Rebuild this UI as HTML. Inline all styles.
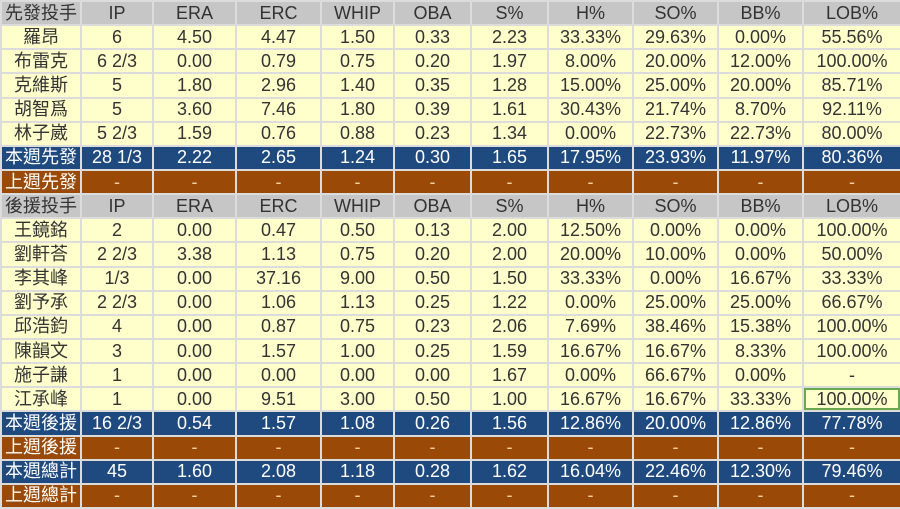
<!DOCTYPE html>
<html><head><meta charset="utf-8"><style>
html,body{margin:0;padding:0;background:#fff;}
table{border-collapse:collapse;table-layout:fixed;width:900px;height:509px;font-family:"Liberation Sans","Noto Sans CJK TC",sans-serif;font-size:18px;}
td{border:2px solid #dcdcdc;text-align:center;padding:0;height:22px;line-height:19px;color:#333;background:#ffffcc;white-space:nowrap;overflow:hidden;}
tr.h td{background:#c6c6c6;color:#333;}
tr.b td{background:#1f4a80;color:#fff;}
tr.r td{background:#9a4a06;color:#fff;}
tr.r td:not(:first-child){color:#f0d0a0;}
td.g{outline:2px solid #6aa84f;outline-offset:-3px;}
</style></head><body>
<table>
<colgroup><col style="width:80px"><col style="width:72px"><col style="width:83px"><col style="width:85px"><col style="width:73px"><col style="width:77px"><col style="width:77px"><col style="width:85px"><col style="width:85px"><col style="width:85px"><col style="width:98px"></colgroup>
<tr class="h"><td>先發投手</td><td>IP</td><td>ERA</td><td>ERC</td><td>WHIP</td><td>OBA</td><td>S%</td><td>H%</td><td>SO%</td><td>BB%</td><td>LOB%</td></tr>
<tr><td>羅昂</td><td>6</td><td>4.50</td><td>4.47</td><td>1.50</td><td>0.33</td><td>2.23</td><td>33.33%</td><td>29.63%</td><td>0.00%</td><td>55.56%</td></tr>
<tr><td>布雷克</td><td>6 2/3</td><td>0.00</td><td>0.79</td><td>0.75</td><td>0.20</td><td>1.97</td><td>8.00%</td><td>20.00%</td><td>12.00%</td><td>100.00%</td></tr>
<tr><td>克維斯</td><td>5</td><td>1.80</td><td>2.96</td><td>1.40</td><td>0.35</td><td>1.28</td><td>15.00%</td><td>25.00%</td><td>20.00%</td><td>85.71%</td></tr>
<tr><td>胡智爲</td><td>5</td><td>3.60</td><td>7.46</td><td>1.80</td><td>0.39</td><td>1.61</td><td>30.43%</td><td>21.74%</td><td>8.70%</td><td>92.11%</td></tr>
<tr><td>林子崴</td><td>5 2/3</td><td>1.59</td><td>0.76</td><td>0.88</td><td>0.23</td><td>1.34</td><td>0.00%</td><td>22.73%</td><td>22.73%</td><td>80.00%</td></tr>
<tr class="b"><td>本週先發</td><td>28 1/3</td><td>2.22</td><td>2.65</td><td>1.24</td><td>0.30</td><td>1.65</td><td>17.95%</td><td>23.93%</td><td>11.97%</td><td>80.36%</td></tr>
<tr class="r"><td>上週先發</td><td>-</td><td>-</td><td>-</td><td>-</td><td>-</td><td>-</td><td>-</td><td>-</td><td>-</td><td>-</td></tr>
<tr class="h"><td>後援投手</td><td>IP</td><td>ERA</td><td>ERC</td><td>WHIP</td><td>OBA</td><td>S%</td><td>H%</td><td>SO%</td><td>BB%</td><td>LOB%</td></tr>
<tr><td>王鏡銘</td><td>2</td><td>0.00</td><td>0.47</td><td>0.50</td><td>0.13</td><td>2.00</td><td>12.50%</td><td>0.00%</td><td>0.00%</td><td>100.00%</td></tr>
<tr><td>劉軒荅</td><td>2 2/3</td><td>3.38</td><td>1.13</td><td>0.75</td><td>0.20</td><td>2.00</td><td>20.00%</td><td>10.00%</td><td>0.00%</td><td>50.00%</td></tr>
<tr><td>李其峰</td><td>1/3</td><td>0.00</td><td>37.16</td><td>9.00</td><td>0.50</td><td>1.50</td><td>33.33%</td><td>0.00%</td><td>16.67%</td><td>33.33%</td></tr>
<tr><td>劉予承</td><td>2 2/3</td><td>0.00</td><td>1.06</td><td>1.13</td><td>0.25</td><td>1.22</td><td>0.00%</td><td>25.00%</td><td>25.00%</td><td>66.67%</td></tr>
<tr><td>邱浩鈞</td><td>4</td><td>0.00</td><td>0.87</td><td>0.75</td><td>0.23</td><td>2.06</td><td>7.69%</td><td>38.46%</td><td>15.38%</td><td>100.00%</td></tr>
<tr><td>陳韻文</td><td>3</td><td>0.00</td><td>1.57</td><td>1.00</td><td>0.25</td><td>1.59</td><td>16.67%</td><td>16.67%</td><td>8.33%</td><td>100.00%</td></tr>
<tr><td>施子謙</td><td>1</td><td>0.00</td><td>0.00</td><td>0.00</td><td>0.00</td><td>1.67</td><td>0.00%</td><td>66.67%</td><td>0.00%</td><td>-</td></tr>
<tr><td>江承峰</td><td>1</td><td>0.00</td><td>9.51</td><td>3.00</td><td>0.50</td><td>1.00</td><td>16.67%</td><td>16.67%</td><td>33.33%</td><td class="g">100.00%</td></tr>
<tr class="b"><td>本週後援</td><td>16 2/3</td><td>0.54</td><td>1.57</td><td>1.08</td><td>0.26</td><td>1.56</td><td>12.86%</td><td>20.00%</td><td>12.86%</td><td>77.78%</td></tr>
<tr class="r"><td>上週後援</td><td>-</td><td>-</td><td>-</td><td>-</td><td>-</td><td>-</td><td>-</td><td>-</td><td>-</td><td>-</td></tr>
<tr class="b"><td>本週總計</td><td>45</td><td>1.60</td><td>2.08</td><td>1.18</td><td>0.28</td><td>1.62</td><td>16.04%</td><td>22.46%</td><td>12.30%</td><td>79.46%</td></tr>
<tr class="r"><td>上週總計</td><td>-</td><td>-</td><td>-</td><td>-</td><td>-</td><td>-</td><td>-</td><td>-</td><td>-</td><td>-</td></tr>
</table>
</body></html>
